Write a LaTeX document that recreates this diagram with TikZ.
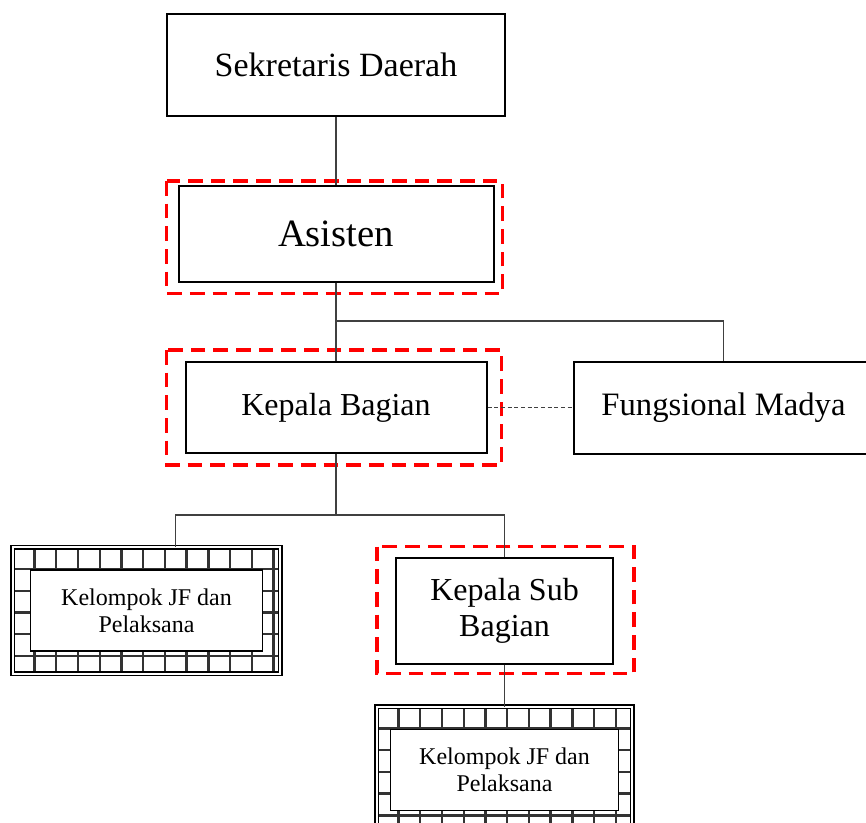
\documentclass[tikz,border=0pt]{standalone}
\usepackage{fontspec}
\setmainfont{Liberation Serif}
\usetikzlibrary{positioning}

\tikzset{
  box/.style={draw, line width=1.5pt, align=center, inner sep=0pt},
  brickframe/.style={draw, line width=1.2pt, double, double distance=1.3pt},
  brickline/.style={line width=1.8pt, black!80},
  redframe/.style={red, line width=2.6pt, dash pattern=on 11pt off 6pt},
  line/.style={black!75, line width=0.8pt},
  dashline/.style={black!75, line width=0.8pt, dash pattern=on 3pt off 2pt},
}

\begin{document}
\begin{tikzpicture}
      \useasboundingbox (0,0) rectangle (649.5pt,-616.5pt);

      \node [box, minimum width=253.5pt, minimum height=76.5pt, font=\fontsize{25.5}{30}\selectfont] (1) at (252pt,-48.75pt) {Sekretaris Daerah};
      \node [box, below=51pt of 1, minimum width=236.25pt, minimum height=72pt, font=\fontsize{29}{34}\selectfont] (2) {Asisten};
      \node [box, below=58.5pt of 2, minimum width=225.75pt, minimum height=68.25pt, font=\fontsize{24}{29}\selectfont] (3) {Kepala Bagian};
      \node [box, right=63.75pt of 3, minimum width=225pt, minimum height=69pt, font=\fontsize{24.5}{29}\selectfont] (4) {Fungsional Madya};
      \node [below=70pt of 3, xshift=-142.1pt, minimum width=200.25pt, minimum height=94.5pt, inner sep=0pt] (5) {};
      \node [box, below=77pt of 3, xshift=126.4pt, minimum width=162.75pt, minimum height=79.5pt, font=\fontsize{24}{27}\selectfont] (6) {Kepala Sub\\Bagian};
      \node [below=31.5pt of 6, minimum width=191.25pt, minimum height=94.5pt, inner sep=0pt] (7) {};

      % brick borders
      \foreach \n/\k in {5/12, 7/11} {
        \foreach \i in {1,...,\k}
          \draw[brickline] ([xshift=\i*16.3pt]\n.north west) -- ([xshift=\i*16.3pt]\n.south west);
        \foreach \j in {1,...,5}
          \draw[brickline] ([yshift=-\j*16.3pt]\n.north west) -- ([yshift=-\j*16.3pt]\n.north east);
        \draw[brickframe] (\n.north west) rectangle (\n.south east);
      }
      \node [box, fill=white, line width=1pt, minimum width=174pt, minimum height=60.75pt, font=\fontsize{18}{20.5}\selectfont] (5a) at (5) {Kelompok JF dan\\Pelaksana};
      \node [box, fill=white, line width=1pt, minimum width=171pt, minimum height=60.75pt, font=\fontsize{18}{20.5}\selectfont] (7a) at (7) {Kelompok JF dan\\Pelaksana};

      % red marks
      \draw[redframe] ([shift={(-8.25pt,3pt)}]2.north west) rectangle ([shift={(6pt,-8pt)}]2.south east);
      \draw[redframe] ([shift={(-13.5pt,8.25pt)}]3.north west) rectangle ([shift={(10.5pt,-8.25pt)}]3.south east);
      \draw[redframe] ([shift={(-13.5pt,7.5pt)}]6.north west) rectangle ([shift={(15pt,-6.75pt)}]6.south east);

      \coordinate [below=28.5pt of 2] (b1);
      \coordinate [below=45.75pt of 3] (b2);

      \draw[line] (1) -- (2);
      \draw[line] (2) -- (3);
      \draw[line] (b1) -| (4);
      \draw[dashline] (3) -- (4);
      \draw[line] (3) -- (b2);
      \draw[line] (b2) -| ([xshift=21.4pt]5.north);
      \draw[line] (b2) -| (6);
      \draw[line] (6) -- (7);
    \end{tikzpicture}
\end{document}
